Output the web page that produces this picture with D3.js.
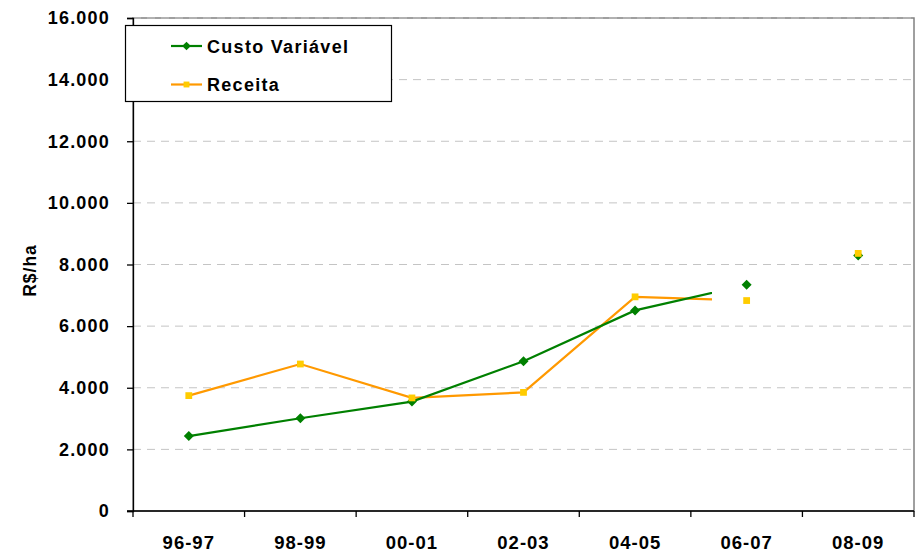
<!DOCTYPE html>
<html>
<head>
<meta charset="utf-8">
<script src="https://cdn.jsdelivr.net/npm/d3@7"></script>
<style>
  html, body { margin: 0; padding: 0; background: #fff; }
  text { font-family: "Liberation Sans", Arial, sans-serif; font-weight: bold; fill: #000; }
</style>
</head>
<body>
<svg id="chart" width="915" height="552"></svg>
<script>
// Safras (x categories) and y tick values
const safras = ["96-97", "98-99", "00-01", "02-03", "04-05", "06-07", "08-09"];
const yTicks = [0, 2000, 4000, 6000, 8000, 10000, 12000, 14000, 16000];

// R$/ha per safra
const custoVariavel = [2430, 3010, 3550, 4860, 6510, 7340, 8290];
const receita       = [3745, 4770, 3670, 3850, 6950, 6830, 8360];

// The connecting lines run through 06-07 and are cut off part way into the last visible segment
const lineCount = 6;
const lineCutFraction = 0.69;

const svg = d3.select("#chart");
const margin = { left: 133, right: 1, top: 18, bottom: 41 };
const W = 915, H = 552;

const x = d3.scaleBand().domain(safras).range([margin.left, W - margin.right]).padding(0);
const y = d3.scaleLinear().domain([0, 16000]).range([H - margin.bottom, margin.top]);
const cx = d => x(d) + x.bandwidth() / 2;

const fmt = v => d3.format(",")(v).replace(/,/g, ".");

// Plot area frame
svg.append("rect")
  .attr("x", margin.left).attr("y", y(16000))
  .attr("width", W - margin.right - margin.left).attr("height", y(0) - y(16000))
  .attr("fill", "none").attr("stroke", "#808080").attr("stroke-width", 1.5);

// Dashed gridlines
svg.append("g").selectAll("line")
  .data(yTicks.filter(v => v > 0))
  .join("line")
  .attr("x1", margin.left).attr("x2", W - margin.right)
  .attr("y1", d => y(d)).attr("y2", d => y(d))
  .attr("stroke", "#c4c4c4").attr("stroke-width", 1)
  .attr("stroke-dasharray", "8,6");

// Y axis
const yAxis = svg.append("g")
  .attr("transform", `translate(${margin.left},0)`)
  .call(d3.axisLeft(y).tickValues(yTicks).tickFormat(fmt).tickSize(6).tickPadding(17));
yAxis.select(".domain").attr("stroke", "#000").attr("stroke-width", 1.3);
yAxis.selectAll(".tick line").attr("stroke", "#000").attr("stroke-width", 1.3);
yAxis.selectAll(".tick text")
  .style("font-size", "18px").style("letter-spacing", "1.2px").attr("fill", "#000");

// X axis with tick marks at the category boundaries
const xAxisG = svg.append("g").attr("transform", `translate(0,${y(0)})`);
xAxisG.append("line")
  .attr("x1", margin.left - 6).attr("x2", W - margin.right)
  .attr("stroke", "#000").attr("stroke-width", 1.3);
const bounds = safras.map(d => x(d)).concat([x(safras[safras.length - 1]) + x.bandwidth()]);
xAxisG.selectAll("line.tk")
  .data(bounds)
  .join("line").attr("class", "tk")
  .attr("x1", d => d).attr("x2", d => d)
  .attr("y1", 0).attr("y2", 6)
  .attr("stroke", "#000").attr("stroke-width", 1.3);
xAxisG.selectAll("text")
  .data(safras)
  .join("text")
  .attr("x", d => cx(d)).attr("y", 37.5)
  .attr("text-anchor", "middle")
  .style("font-size", "18.5px").style("letter-spacing", "1px")
  .text(d => d);

// Y axis title
svg.append("text")
  .attr("transform", `translate(36,${(y(0) + y(16000)) / 2 + 6}) rotate(-90)`)
  .attr("text-anchor", "middle")
  .style("font-size", "17.5px").style("letter-spacing", "1px")
  .text("R$/ha");

// Clip for the connecting lines
const cutX = cx(safras[lineCount - 2]) + lineCutFraction * (cx(safras[lineCount - 1]) - cx(safras[lineCount - 2]));
svg.append("clipPath").attr("id", "lineClip")
  .append("rect").attr("x", 0).attr("y", 0).attr("width", cutX).attr("height", H);

const line = d3.line().x(d => cx(d.s)).y(d => y(d.v));
const pts = arr => arr.map((v, i) => ({ s: safras[i], v }));

const series = [
  { name: "Custo Variável", values: custoVariavel, line: "#008000", marker: "#008000", rotate: 45, size: 50 },
  { name: "Receita", values: receita, line: "#FF9900", marker: "#FFCC00", rotate: 0, size: 46 }
];

// Lines: Receita underneath, Custo Variável on top
[series[1], series[0]].forEach(s => {
  svg.append("path")
    .datum(pts(s.values).slice(0, lineCount))
    .attr("d", line)
    .attr("fill", "none").attr("stroke", s.line).attr("stroke-width", 2.2)
    .attr("clip-path", "url(#lineClip)");
});
// Markers: diamonds first, squares over them
series.forEach(s => {
  svg.append("g").selectAll("path")
    .data(pts(s.values))
    .join("path")
    .attr("transform", d => `translate(${cx(d.s)},${y(d.v)}) rotate(${s.rotate})`)
    .attr("d", d3.symbol().type(d3.symbolSquare).size(s.size))
    .attr("fill", s.marker);
});

// Legend
const lg = svg.append("g");
lg.append("rect")
  .attr("x", 125.5).attr("y", 25.5).attr("width", 266).attr("height", 76)
  .attr("fill", "#fff").attr("stroke", "#000").attr("stroke-width", 1.2);
const rows = [{ s: series[0], ly: 46, ty: 52.5 }, { s: series[1], ly: 84.5, ty: 91 }];
rows.forEach(r => {
  lg.append("line")
    .attr("x1", 171).attr("x2", 202).attr("y1", r.ly).attr("y2", r.ly)
    .attr("stroke", r.s.line).attr("stroke-width", 2.2);
  lg.append("path")
    .attr("transform", `translate(186.5,${r.ly}) rotate(${r.s.rotate})`)
    .attr("d", d3.symbol().type(d3.symbolSquare).size(r.s.size * 0.75))
    .attr("fill", r.s.marker);
  lg.append("text")
    .attr("x", 207).attr("y", r.ty)
    .style("font-size", "18px").style("letter-spacing", "1.3px")
    .text(r.s.name);
});
</script>
</body>
</html>
